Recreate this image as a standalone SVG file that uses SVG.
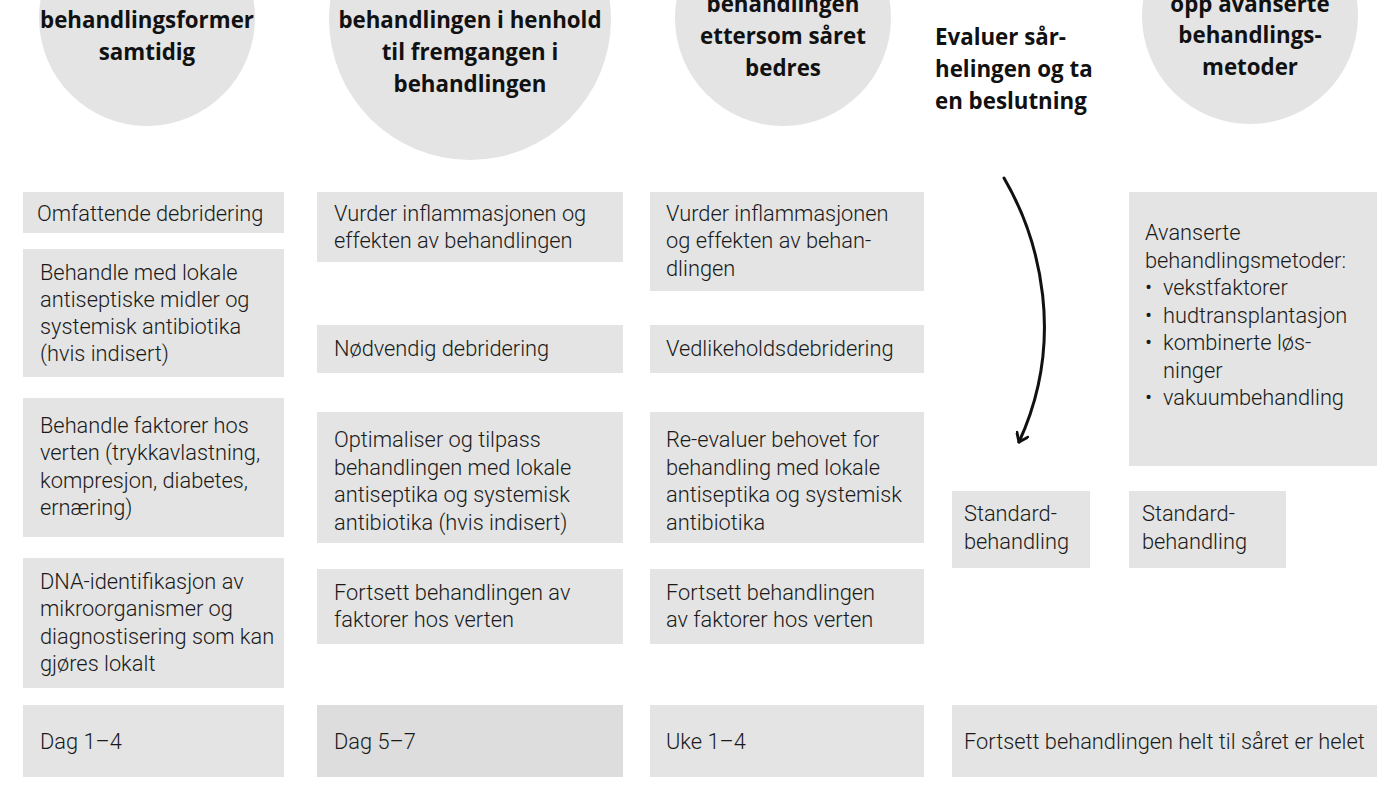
<svg xmlns="http://www.w3.org/2000/svg" width="1400" height="786" viewBox="0 0 1400 786">
<style>
.bg{fill:#ffffff}
.circ{fill:#e3e4e3}
.box{fill:#e3e4e3}
.box2{fill:#dcdddc}
.h{font-family:"Open Sans","Liberation Sans",sans-serif;font-weight:700;font-size:22.3px;fill:#111;text-anchor:middle}
.hl{font-family:"Open Sans","Liberation Sans",sans-serif;font-weight:700;font-size:22.3px;fill:#111}
.t{font-family:Roboto,"Liberation Sans",sans-serif;font-weight:300;font-size:21.8px;fill:#1a1a1a}
.conn{fill:none;stroke:#111;stroke-width:3;stroke-linecap:round;stroke-linejoin:round}
</style>
<defs>
<marker id="arr" markerWidth="14" markerHeight="14" refX="10" refY="7" orient="auto" markerUnits="userSpaceOnUse">
<path d="M2,1 L10,7 L2,13" fill="none" stroke="#111" stroke-width="3" stroke-linecap="round" stroke-linejoin="round"/>
</marker>
</defs>
<rect class="bg" x="0" y="0" width="1400" height="786"/>

<g id="head1">
<circle class="circ" cx="147" cy="18" r="108"/>
<text class="h" x="147" y="28">behandlingsformer</text>
<text class="h" x="147" y="60">samtidig</text>
</g>
<g id="head2">
<circle class="circ" cx="470" cy="19" r="141"/>
<text class="h" x="470" y="28">behandlingen i henhold</text>
<text class="h" x="470" y="60">til fremgangen i</text>
<text class="h" x="470" y="92">behandlingen</text>
</g>
<g id="head3">
<circle class="circ" cx="783" cy="18" r="108"/>
<text class="h" x="783" y="12">behandlingen</text>
<text class="h" x="783" y="44">ettersom såret</text>
<text class="h" x="783" y="76">bedres</text>
</g>
<g id="head4">
<text class="hl" x="935" y="45">Evaluer sår-</text>
<text class="hl" x="935" y="77">helingen og ta</text>
<text class="hl" x="935" y="109">en beslutning</text>
</g>
<g id="head5">
<circle class="circ" cx="1250" cy="16" r="108"/>
<text class="h" x="1250" y="12">opp avanserte</text>
<text class="h" x="1250" y="43">behandlings-</text>
<text class="h" x="1250" y="75">metoder</text>
</g>

<g id="c1b1"><rect class="box" x="23" y="192" width="261" height="41"/>
<text class="t" x="37" y="221">Omfattende debridering</text></g>
<g id="c1b2"><rect class="box" x="23" y="249" width="261" height="128"/>
<text class="t" x="40" y="280">Behandle med lokale</text>
<text class="t" x="40" y="307">antiseptiske midler og</text>
<text class="t" x="40" y="334">systemisk antibiotika</text>
<text class="t" x="40" y="361">(hvis indisert)</text></g>
<g id="c1b3"><rect class="box" x="23" y="398" width="261" height="139"/>
<text class="t" x="40" y="433">Behandle faktorer hos</text>
<text class="t" x="40" y="460">verten (trykkavlastning,</text>
<text class="t" x="40" y="488">kompresjon, diabetes,</text>
<text class="t" x="40" y="515">ernæring)</text></g>
<g id="c1b4"><rect class="box" x="23" y="558" width="261" height="130"/>
<text class="t" x="40" y="589">DNA-identifikasjon av</text>
<text class="t" x="40" y="616">mikroorganismer og</text>
<text class="t" x="40" y="644">diagnostisering som kan</text>
<text class="t" x="40" y="671">gjøres lokalt</text></g>
<g id="c1b5"><rect class="box" x="23" y="705" width="261" height="72"/>
<text class="t" x="40" y="749">Dag 1–4</text></g>

<g id="c2b1"><rect class="box" x="317" y="192" width="306" height="70"/>
<text class="t" x="334" y="221">Vurder inflammasjonen og</text>
<text class="t" x="334" y="248">effekten av behandlingen</text></g>
<g id="c2b2"><rect class="box" x="317" y="325" width="306" height="48"/>
<text class="t" x="334" y="356">Nødvendig debridering</text></g>
<g id="c2b3"><rect class="box" x="317" y="412" width="306" height="131"/>
<text class="t" x="334" y="447">Optimaliser og tilpass</text>
<text class="t" x="334" y="475">behandlingen med lokale</text>
<text class="t" x="334" y="502">antiseptika og systemisk</text>
<text class="t" x="334" y="530">antibiotika (hvis indisert)</text></g>
<g id="c2b4"><rect class="box" x="317" y="569" width="306" height="75"/>
<text class="t" x="334" y="600">Fortsett behandlingen av</text>
<text class="t" x="334" y="627">faktorer hos verten</text></g>
<g id="c2b5"><rect class="box2" x="317" y="705" width="306" height="72"/>
<text class="t" x="334" y="749">Dag 5–7</text></g>

<g id="c3b1"><rect class="box" x="650" y="192" width="274" height="99"/>
<text class="t" x="666" y="221">Vurder inflammasjonen</text>
<text class="t" x="666" y="248">og effekten av behan-</text>
<text class="t" x="666" y="276">dlingen</text></g>
<g id="c3b2"><rect class="box" x="650" y="325" width="274" height="48"/>
<text class="t" x="666" y="356">Vedlikeholdsdebridering</text></g>
<g id="c3b3"><rect class="box" x="650" y="412" width="274" height="131"/>
<text class="t" x="666" y="447">Re-evaluer behovet for</text>
<text class="t" x="666" y="475">behandling med lokale</text>
<text class="t" x="666" y="502">antiseptika og systemisk</text>
<text class="t" x="666" y="530">antibiotika</text></g>
<g id="c3b4"><rect class="box" x="650" y="569" width="274" height="75"/>
<text class="t" x="666" y="600">Fortsett behandlingen</text>
<text class="t" x="666" y="627">av faktorer hos verten</text></g>
<g id="c3b5"><rect class="box" x="650" y="705" width="274" height="72"/>
<text class="t" x="666" y="749">Uke 1–4</text></g>

<g id="c4b1"><rect class="box" x="952" y="491" width="138" height="77"/>
<text class="t" x="964" y="521">Standard-</text>
<text class="t" x="964" y="549">behandling</text></g>
<g id="c5b1"><rect class="box" x="1129" y="192" width="248" height="274"/>
<text class="t" x="1145" y="240">Avanserte</text>
<text class="t" x="1145" y="268">behandlingsmetoder:</text>
<text class="t" x="1145" y="295">•</text><text class="t" x="1163" y="295">vekstfaktorer</text>
<text class="t" x="1145" y="323">•</text><text class="t" x="1163" y="323">hudtransplantasjon</text>
<text class="t" x="1145" y="350">•</text><text class="t" x="1163" y="350">kombinerte løs-</text>
<text class="t" x="1163" y="378">ninger</text>
<text class="t" x="1145" y="405">•</text><text class="t" x="1163" y="405">vakuumbehandling</text></g>
<g id="c5b2"><rect class="box" x="1129" y="491" width="157" height="77"/>
<text class="t" x="1142" y="521">Standard-</text>
<text class="t" x="1142" y="549">behandling</text></g>
<g id="bottom"><rect class="box" x="952" y="705" width="425" height="72"/>
<text class="t" x="964" y="749">Fortsett behandlingen helt til såret er helet</text></g>

<g id="connectors">
<path class="conn" d="M1004,178 C1040,240 1066,340 1019,442" marker-end="url(#arr)"/>
</g>
</svg>
